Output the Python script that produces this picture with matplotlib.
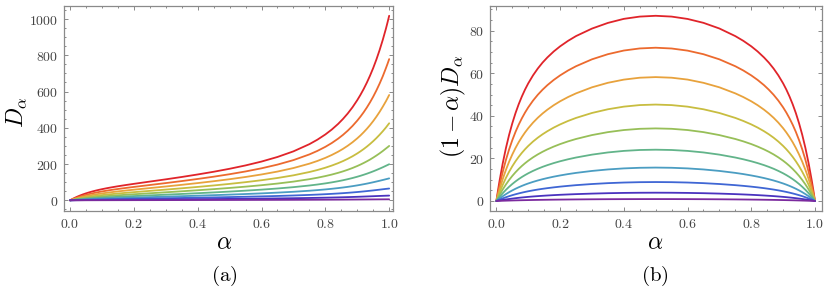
import numpy as np
import matplotlib
matplotlib.use("Agg")
import matplotlib.pyplot as plt
from matplotlib.ticker import MultipleLocator, FuncFormatter

plt.rcParams['mathtext.fontset'] = 'cm'
plt.rcParams['font.family'] = 'DejaVu Serif'

# alpha grid (values at these points)
alpha = [0, 0.005, 0.01, 0.02, 0.03, 0.04, 0.05, 0.06, 0.07, 0.08, 0.09, 0.1, 0.115, 0.13, 0.145, 0.16,
         0.18, 0.2, 0.225, 0.25, 0.3, 0.35, 0.4, 0.45, 0.5, 0.55, 0.6, 0.65, 0.7, 0.75, 0.775, 0.8,
         0.82, 0.84, 0.855, 0.87, 0.885, 0.9, 0.91, 0.92, 0.93, 0.94, 0.95, 0.96, 0.97, 0.98, 0.99,
         0.995, 1.0]

# D_alpha for each curve, top (red) to bottom (purple)
D_red = [0, 4.94, 9.58, 18.07, 25.63, 32.38, 38.42, 43.89, 48.85, 53.37, 57.54, 61.39, 66.68, 71.53,
         76.05, 80.27, 85.66, 90.81, 97.08, 103.3, 115.7, 128.7, 142.6, 157.5, 174.0, 192.5, 213.8,
         239.1, 270.1, 309.8, 334.4, 363.3, 390.2, 421.4, 448.4, 478.7, 513.1, 552.5, 581.8, 613.8,
         649.0, 687.7, 730.0, 777.0, 828.7, 885.5, 948.0, 982.4, 1018]
D_orange = [0, 3.79, 7.37, 13.97, 19.91, 25.26, 30.09, 34.50, 38.53, 42.23, 45.66, 48.86, 53.28, 57.36,
            61.16, 64.77, 69.35, 73.75, 79.12, 84.41, 95.07, 106.1, 117.8, 130.3, 144.0, 159.2, 176.6,
            197.0, 221.8, 253.2, 272.5, 295.0, 315.9, 340.1, 360.6, 383.9, 410.0, 439.7, 461.7, 485.6,
            511.9, 540.5, 571.8, 606.3, 643.7, 684.5, 730.0, 753.8, 779]
D_yorange = [0, 2.83, 5.53, 10.54, 15.09, 19.23, 23.01, 26.48, 29.68, 32.64, 35.40, 37.99, 41.59, 44.94,
             48.08, 51.06, 54.87, 58.54, 63.01, 67.41, 76.29, 85.42, 95.03, 105.3, 116.4, 128.7, 142.6,
             158.6, 178.0, 202.2, 217.0, 234.2, 250.0, 268.1, 283.5, 300.8, 320.1, 341.9, 357.9, 375.4,
             394.3, 414.8, 437.2, 461.5, 487.8, 516.5, 547.0, 563.8, 581]
D_ygreen = [0, 2.08, 4.06, 7.78, 11.19, 14.30, 17.18, 19.83, 22.29, 24.58, 26.72, 28.73, 31.56, 34.18,
            36.66, 39.02, 42.05, 44.96, 48.52, 52.03, 59.07, 66.29, 73.88, 81.93, 90.6, 100.1, 110.8,
            123.1, 137.8, 156.1, 167.1, 179.9, 191.6, 204.9, 216.2, 228.8, 242.8, 258.6, 270.2, 282.6,
            296.1, 310.7, 326.4, 343.3, 361.6, 381.0, 402.0, 413.5, 425]
D_green = [0, 1.47, 2.89, 5.55, 8.01, 10.29, 12.40, 14.35, 16.18, 17.89, 19.50, 21.02, 23.16, 25.16,
           27.05, 28.86, 31.17, 33.41, 36.14, 38.84, 44.24, 49.77, 55.55, 61.65, 68.2, 75.36, 83.33,
           92.43, 103.2, 116.5, 124.5, 133.7, 142.0, 151.5, 159.5, 168.4, 178.2, 189.2, 197.2, 205.8,
           215.0, 224.8, 235.6, 247.0, 259.1, 272.0, 286.0, 292.8, 300]
D_teal = [0, 0.98, 1.93, 3.72, 5.40, 6.96, 8.41, 9.77, 11.05, 12.25, 13.38, 14.46, 15.97, 17.40,
          18.76, 20.05, 21.72, 23.33, 25.29, 27.23, 31.11, 35.09, 39.22, 43.56, 48.2, 53.24, 58.83,
          65.17, 72.6, 81.68, 87.1, 93.3, 98.9, 105.3, 110.6, 116.5, 122.9, 130.1, 135.3, 140.9,
          146.8, 153.1, 159.8, 167.0, 174.5, 182.3, 190.6, 194.8, 199]
D_cyan = [0, 0.60, 1.18, 2.29, 3.33, 4.32, 5.24, 6.11, 6.93, 7.71, 8.45, 9.15, 10.14, 11.08,
          11.97, 12.83, 13.94, 15.0, 16.31, 17.6, 20.17, 22.80, 25.52, 28.36, 31.4, 34.67, 38.28,
          42.34, 47.07, 52.8, 56.2, 60.0, 63.5, 67.38, 70.6, 74.14, 78.0, 82.33, 85.4, 88.66,
          92.1, 95.77, 99.6, 103.7, 107.8, 112.1, 116.5, 118.7, 121]
D_blue = [0, 0.32, 0.64, 1.24, 1.82, 2.36, 2.88, 3.36, 3.82, 4.26, 4.68, 5.08, 5.64, 6.18,
          6.69, 7.18, 7.81, 8.43, 9.17, 9.92, 11.39, 12.90, 14.45, 16.08, 17.8, 19.65, 21.68,
          23.95, 26.59, 29.75, 31.6, 33.7, 35.6, 37.69, 39.4, 41.34, 43.4, 45.68, 47.3, 49.0,
          50.8, 52.68, 54.6, 56.68, 58.7, 60.9, 63.0, 63.96, 65]
D_indigo = [0, 0.13, 0.26, 0.51, 0.75, 0.97, 1.19, 1.40, 1.60, 1.79, 1.97, 2.15, 2.40, 2.63,
            2.86, 3.08, 3.36, 3.64, 3.97, 4.30, 4.96, 5.64, 6.33, 7.04, 7.8, 8.61, 9.49,
            10.47, 11.58, 12.91, 13.68, 14.55, 15.32, 16.17, 16.87, 17.63, 18.45, 19.33, 19.95, 20.6,
            21.27, 21.97, 22.66, 23.38, 24.08, 24.75, 25.4, 25.7, 26]
D_purple = [0, 0.027, 0.055, 0.109, 0.162, 0.213, 0.262, 0.309, 0.354, 0.398, 0.440, 0.480, 0.538, 0.593,
            0.646, 0.697, 0.764, 0.828, 0.907, 0.985, 1.14, 1.30, 1.46, 1.62, 1.80, 1.99, 2.19,
            2.41, 2.66, 2.95, 3.12, 3.31, 3.48, 3.66, 3.81, 3.97, 4.14, 4.32, 4.45, 4.58,
            4.71, 4.84, 4.97, 5.10, 5.22, 5.34, 5.43, 5.46, 5.5]

curves = [D_red, D_orange, D_yorange, D_ygreen, D_green, D_teal, D_cyan, D_blue, D_indigo, D_purple]
colors = ['#e0242a', '#ec6a2e', '#e8a23c', '#c8bd40', '#97bf58', '#62b48a', '#4b9dc2',
          '#3f66d4', '#4a33bf', '#7b2a9e']

frame_col = '#8a8a8a'
label_col = '#444444'

fig = plt.figure(figsize=(8.3, 2.94), dpi=100)
axL = fig.add_axes([64 / 830, 1 - 211 / 294, 329 / 830, 205 / 294])
axR = fig.add_axes([490 / 830, 1 - 211 / 294, 332 / 830, 205 / 294])

a = np.array(alpha)
for D, col in zip(curves, colors):
    D = np.array(D)
    axL.plot(a, D, color=col, lw=1.3, solid_joinstyle='round', solid_capstyle='round')
    axR.plot(a, (1 - a) * D, color=col, lw=1.3, solid_joinstyle='round', solid_capstyle='round')

axL.set_xlim(-0.019, 1.012)
axL.set_ylim(-59, 1072)
axR.set_xlim(-0.020, 1.022)
axR.set_ylim(-4.7, 91.6)

xfmt = FuncFormatter(lambda v, p: r'$%.1f$' % v)
yfmt = FuncFormatter(lambda v, p: r'$%d$' % round(v))

for ax, ymaj, ymin in [(axL, 200, 50), (axR, 20, 5)]:
    ax.xaxis.set_major_locator(MultipleLocator(0.2))
    ax.xaxis.set_minor_locator(MultipleLocator(0.05))
    ax.yaxis.set_major_locator(MultipleLocator(ymaj))
    ax.yaxis.set_minor_locator(MultipleLocator(ymin))
    ax.xaxis.set_major_formatter(xfmt)
    ax.yaxis.set_major_formatter(yfmt)
    ax.tick_params(which='both', direction='in', top=True, right=True, color=frame_col,
                   labelcolor=label_col, labelsize=10, width=0.7)
    ax.tick_params(which='major', length=3.0, pad=4)
    ax.tick_params(which='minor', length=1.7)
    for s in ax.spines.values():
        s.set_color(frame_col)
        s.set_linewidth(0.9)

fig.text(17 / 830, 1 - 112 / 294, r'$D_\alpha$', rotation=90, fontsize=17, ha='center', va='center')
fig.text(453 / 830, 1 - 106 / 294, r'$(1-\alpha)D_\alpha$', rotation=90, fontsize=17, ha='center', va='center')
fig.text(224 / 830, 1 - 243 / 294, r'$\alpha$', fontsize=17, ha='center', va='center')
fig.text(655 / 830, 1 - 243 / 294, r'$\alpha$', fontsize=17, ha='center', va='center')
fig.text(224 / 830, 1 - 276 / 294, r'$\mathrm{(a)}$', fontsize=15, ha='center', va='center')
fig.text(655 / 830, 1 - 276 / 294, r'$\mathrm{(b)}$', fontsize=15, ha='center', va='center')

fig.savefig('out.png', dpi=100)
